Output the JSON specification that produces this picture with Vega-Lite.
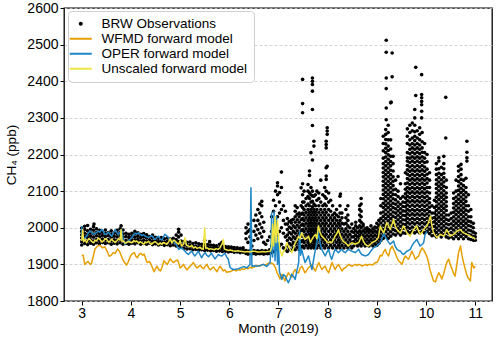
{
"$schema": "https://vega.github.io/schema/vega-lite/v6.json",
"width": 428, "height": 293,
"autosize": {"type": "none"},
"padding": {"left": 64, "top": 8, "right": 8, "bottom": 37},
"background": "white",
"config": {
 "view": {"stroke": "black", "strokeWidth": 1.3},
 "axis": {"labelFont": "Liberation Sans", "titleFont": "Liberation Sans", "labelColor": "black", "titleColor": "black", "titleFontWeight": "normal", "labelFontSize": 14, "titleFontSize": 13.5, "domain": false, "tickColor": "black", "tickSize": 4, "tickWidth": 1, "labelOverlap": false}
},
"datasets": {
"obs": [
{"m":3.00,"c":1953},{"m":3.00,"c":1962},{"m":3.00,"c":1972},{"m":3.00,"c":1981},{"m":3.00,"c":1990},{"m":3.00,"c":1999},
{"m":3.06,"c":1957},{"m":3.06,"c":1966},{"m":3.06,"c":1976},{"m":3.06,"c":1985},{"m":3.06,"c":1995},{"m":3.06,"c":2004},
{"m":3.12,"c":1954},{"m":3.12,"c":1963},{"m":3.12,"c":1973},{"m":3.12,"c":1982},{"m":3.12,"c":1992},{"m":3.12,"c":2006},
{"m":3.18,"c":1958},{"m":3.18,"c":1967},{"m":3.18,"c":1977},{"m":3.18,"c":1986},{"m":3.18,"c":1996},
{"m":3.24,"c":1955},{"m":3.24,"c":1964},{"m":3.24,"c":1974},{"m":3.24,"c":1983},{"m":3.24,"c":1993},{"m":3.24,"c":2003},{"m":3.25,"c":2010},
{"m":3.30,"c":1959},{"m":3.30,"c":1968},{"m":3.30,"c":1978},{"m":3.30,"c":1987},{"m":3.30,"c":1997},
{"m":3.36,"c":1956},{"m":3.36,"c":1965},{"m":3.36,"c":1975},{"m":3.36,"c":1984},{"m":3.36,"c":1993},
{"m":3.42,"c":1960},{"m":3.42,"c":1969},{"m":3.42,"c":1979},{"m":3.42,"c":1988},
{"m":3.48,"c":1957},{"m":3.48,"c":1966},{"m":3.48,"c":1976},{"m":3.48,"c":1985},{"m":3.48,"c":1994},
{"m":3.54,"c":1959},{"m":3.54,"c":1968},{"m":3.54,"c":1978},{"m":3.54,"c":1987},
{"m":3.60,"c":1955},{"m":3.60,"c":1964},{"m":3.60,"c":1974},{"m":3.60,"c":1983},{"m":3.60,"c":1992},
{"m":3.66,"c":1958},{"m":3.66,"c":1967},{"m":3.66,"c":1977},{"m":3.66,"c":1986},
{"m":3.72,"c":1956},{"m":3.72,"c":1965},{"m":3.72,"c":1975},{"m":3.72,"c":1984},{"m":3.72,"c":1993},
{"m":3.78,"c":1959},{"m":3.78,"c":1968},{"m":3.78,"c":1978},{"m":3.78,"c":1987},{"m":3.78,"c":1997},{"m":3.80,"c":2005},
{"m":3.84,"c":1955},{"m":3.84,"c":1964},{"m":3.84,"c":1974},{"m":3.84,"c":1983},{"m":3.84,"c":1994},
{"m":3.90,"c":1957},{"m":3.90,"c":1966},{"m":3.90,"c":1976},{"m":3.90,"c":1985},
{"m":3.96,"c":1955},{"m":3.96,"c":1964},{"m":3.96,"c":1973},{"m":3.96,"c":1982},
{"m":4.02,"c":1958},{"m":4.02,"c":1967},{"m":4.02,"c":1976},{"m":4.02,"c":1985},
{"m":4.08,"c":1956},{"m":4.08,"c":1965},{"m":4.08,"c":1974},{"m":4.08,"c":1983},{"m":4.08,"c":1990},
{"m":4.14,"c":1959},{"m":4.14,"c":1968},{"m":4.14,"c":1977},{"m":4.14,"c":1986},
{"m":4.20,"c":1955},{"m":4.20,"c":1964},{"m":4.20,"c":1973},{"m":4.20,"c":1982},
{"m":4.26,"c":1957},{"m":4.26,"c":1966},{"m":4.26,"c":1975},{"m":4.26,"c":1984},
{"m":4.32,"c":1955},{"m":4.32,"c":1964},{"m":4.32,"c":1973},{"m":4.32,"c":1981},
{"m":4.38,"c":1958},{"m":4.38,"c":1967},{"m":4.38,"c":1976},
{"m":4.44,"c":1954},{"m":4.44,"c":1963},{"m":4.44,"c":1972},{"m":4.44,"c":1980},
{"m":4.50,"c":1956},{"m":4.50,"c":1965},{"m":4.50,"c":1974},
{"m":4.56,"c":1953},{"m":4.56,"c":1962},{"m":4.56,"c":1971},
{"m":4.62,"c":1955},{"m":4.62,"c":1964},{"m":4.62,"c":1973},
{"m":4.68,"c":1952},{"m":4.68,"c":1961},{"m":4.68,"c":1970},
{"m":4.74,"c":1954},{"m":4.74,"c":1963},{"m":4.74,"c":1972},
{"m":4.80,"c":1951},{"m":4.80,"c":1960},{"m":4.80,"c":1969},
{"m":4.86,"c":1953},{"m":4.86,"c":1962},{"m":4.86,"c":1971},
{"m":4.92,"c":1950},{"m":4.92,"c":1959},{"m":4.92,"c":1968},{"m":4.92,"c":1980},
{"m":4.97,"c":1952},{"m":4.97,"c":1962},{"m":4.97,"c":1975},{"m":4.97,"c":1988},{"m":4.97,"c":1996},
{"m":5.02,"c":1946},{"m":5.02,"c":1955},{"m":5.02,"c":1964},{"m":5.02,"c":1980},
{"m":5.08,"c":1944},{"m":5.08,"c":1953},{"m":5.08,"c":1962},
{"m":5.14,"c":1942},{"m":5.14,"c":1951},{"m":5.14,"c":1960},
{"m":5.20,"c":1943},{"m":5.20,"c":1952},{"m":5.20,"c":1961},
{"m":5.26,"c":1940},{"m":5.26,"c":1949},{"m":5.26,"c":1957},
{"m":5.32,"c":1941},{"m":5.32,"c":1950},{"m":5.32,"c":1959},
{"m":5.38,"c":1939},{"m":5.38,"c":1948},{"m":5.38,"c":1956},
{"m":5.44,"c":1940},{"m":5.44,"c":1948},{"m":5.44,"c":1955},
{"m":5.50,"c":1938},{"m":5.50,"c":1946},{"m":5.50,"c":1955},{"m":5.50,"c":1966},
{"m":5.56,"c":1939},{"m":5.56,"c":1947},{"m":5.56,"c":1954},
{"m":5.62,"c":1937},{"m":5.62,"c":1945},{"m":5.62,"c":1953},{"m":5.60,"c":1962},
{"m":5.68,"c":1938},{"m":5.68,"c":1946},{"m":5.68,"c":1952},
{"m":5.74,"c":1936},{"m":5.74,"c":1944},{"m":5.74,"c":1951},
{"m":5.80,"c":1937},{"m":5.80,"c":1945},{"m":5.80,"c":1955},
{"m":5.86,"c":1935},{"m":5.86,"c":1943},{"m":5.86,"c":1950},{"m":5.85,"c":1960},
{"m":5.92,"c":1936},{"m":5.92,"c":1943},{"m":5.92,"c":1949},
{"m":5.98,"c":1934},{"m":5.98,"c":1941},{"m":5.98,"c":1948},
{"m":6.04,"c":1935},{"m":6.04,"c":1942},{"m":6.04,"c":1947},
{"m":6.10,"c":1933},{"m":6.10,"c":1940},{"m":6.10,"c":1946},
{"m":6.16,"c":1934},{"m":6.16,"c":1940},{"m":6.16,"c":1945},
{"m":6.22,"c":1932},{"m":6.22,"c":1938},{"m":6.22,"c":1944},
{"m":6.28,"c":1933},{"m":6.28,"c":1939},{"m":6.28,"c":1945},
{"m":6.34,"c":1930},{"m":6.34,"c":1938},{"m":6.34,"c":1970},{"m":6.34,"c":1985},{"m":6.34,"c":2000},
{"m":6.38,"c":1928},{"m":6.38,"c":1936},{"m":6.38,"c":1960},{"m":6.38,"c":1990},{"m":6.38,"c":2010},
{"m":6.42,"c":1930},{"m":6.42,"c":1937},{"m":6.42,"c":1975},{"m":6.42,"c":1995},
{"m":6.46,"c":1929},{"m":6.46,"c":1935},{"m":6.46,"c":1950},
{"m":6.50,"c":1930},{"m":6.50,"c":1938},{"m":6.50,"c":1965},{"m":6.50,"c":1990},{"m":6.50,"c":2020},
{"m":6.54,"c":1928},{"m":6.54,"c":1936},{"m":6.54,"c":1980},{"m":6.54,"c":2005},{"m":6.54,"c":2035},
{"m":6.58,"c":1930},{"m":6.58,"c":1937},{"m":6.58,"c":1970},{"m":6.58,"c":1995},{"m":6.58,"c":2020},{"m":6.58,"c":2050},
{"m":6.62,"c":1929},{"m":6.62,"c":1935},{"m":6.62,"c":1985},{"m":6.62,"c":2010},{"m":6.62,"c":2040},{"m":6.62,"c":2065},
{"m":6.66,"c":1930},{"m":6.66,"c":1938},{"m":6.66,"c":1975},{"m":6.66,"c":2000},{"m":6.66,"c":2030},{"m":6.66,"c":2060},{"m":6.66,"c":2072},
{"m":6.70,"c":1928},{"m":6.70,"c":1936},{"m":6.70,"c":1960},{"m":6.70,"c":1990},{"m":6.70,"c":2015},
{"m":6.74,"c":1930},{"m":6.74,"c":1937},{"m":6.74,"c":1955},
{"m":6.78,"c":1929},{"m":6.78,"c":1935},{"m":6.78,"c":1965},
{"m":6.82,"c":1930},{"m":6.82,"c":1940},{"m":6.82,"c":1975},
{"m":6.86,"c":1932},{"m":6.86,"c":1950},{"m":6.86,"c":1990},{"m":6.86,"c":2030},
{"m":6.90,"c":1935},{"m":6.90,"c":1960},{"m":6.90,"c":2000},{"m":6.90,"c":2045},{"m":6.90,"c":2075},
{"m":6.94,"c":1940},{"m":6.94,"c":1970},{"m":6.94,"c":2010},{"m":6.94,"c":2060},{"m":6.94,"c":2100},
{"m":6.98,"c":1945},{"m":6.98,"c":1980},{"m":6.98,"c":2030},{"m":6.98,"c":2090},{"m":6.98,"c":2114},{"m":6.98,"c":2123},
{"m":7.02,"c":1950},{"m":7.02,"c":1990},{"m":7.02,"c":2040},{"m":7.02,"c":2070},{"m":7.02,"c":2096},
{"m":7.06,"c":1955},{"m":7.06,"c":2000},{"m":7.06,"c":2050},{"m":7.06,"c":2110},{"m":7.06,"c":2152},
{"m":7.10,"c":1945},{"m":7.10,"c":1985},{"m":7.10,"c":2020},{"m":7.10,"c":2060},
{"m":7.14,"c":1940},{"m":7.14,"c":1975},{"m":7.14,"c":2010},{"m":7.14,"c":2045},
{"m":7.18,"c":1935},{"m":7.18,"c":1950},{"m":7.18,"c":1965},{"m":7.18,"c":1980},{"m":7.18,"c":1995},{"m":7.18,"c":2010},{"m":7.18,"c":2025},
{"m":7.22,"c":1942},{"m":7.22,"c":1957},{"m":7.22,"c":1972},{"m":7.22,"c":1987},{"m":7.22,"c":2002},{"m":7.22,"c":2017},
{"m":7.26,"c":1938},{"m":7.26,"c":1953},{"m":7.26,"c":1968},{"m":7.26,"c":1983},{"m":7.26,"c":1998},{"m":7.26,"c":2013},{"m":7.26,"c":2020},
{"m":7.30,"c":1945},{"m":7.30,"c":1960},{"m":7.30,"c":1975},{"m":7.30,"c":1990},{"m":7.30,"c":2005},{"m":7.30,"c":2023},
{"m":7.34,"c":1940},{"m":7.34,"c":1955},{"m":7.34,"c":1970},{"m":7.34,"c":1985},{"m":7.34,"c":2000},{"m":7.34,"c":2015},{"m":7.34,"c":2030},{"m":7.34,"c":2045},{"m":7.34,"c":2060},
{"m":7.38,"c":1947},{"m":7.38,"c":1962},{"m":7.38,"c":1977},{"m":7.38,"c":1992},{"m":7.38,"c":2007},{"m":7.38,"c":2022},{"m":7.38,"c":2037},{"m":7.38,"c":2055},
{"m":7.42,"c":1940},{"m":7.42,"c":1955},{"m":7.42,"c":1970},{"m":7.42,"c":1985},{"m":7.42,"c":2000},{"m":7.42,"c":2015},{"m":7.42,"c":2030},{"m":7.42,"c":2040},
{"m":7.46,"c":1947},{"m":7.46,"c":1962},{"m":7.46,"c":1977},{"m":7.46,"c":1992},{"m":7.46,"c":2007},{"m":7.46,"c":2022},{"m":7.46,"c":2037},{"m":7.46,"c":2060},{"m":7.46,"c":2109},
{"m":7.49,"c":1950},{"m":7.49,"c":1965},{"m":7.49,"c":1980},{"m":7.49,"c":1995},{"m":7.49,"c":2010},{"m":7.49,"c":2025},{"m":7.49,"c":2040},{"m":7.49,"c":2055},{"m":7.49,"c":2070},{"m":7.49,"c":2090},{"m":7.49,"c":2120},{"m":7.49,"c":2314},{"m":7.49,"c":2339},{"m":7.49,"c":2405},
{"m":7.52,"c":1945},{"m":7.52,"c":1960},{"m":7.52,"c":1975},{"m":7.52,"c":1990},{"m":7.52,"c":2005},{"m":7.52,"c":2020},{"m":7.52,"c":2035},{"m":7.52,"c":2050},{"m":7.52,"c":2070},{"m":7.52,"c":2100},
{"m":7.56,"c":1952},{"m":7.56,"c":1967},{"m":7.56,"c":1982},{"m":7.56,"c":1997},{"m":7.56,"c":2012},{"m":7.56,"c":2027},{"m":7.56,"c":2042},{"m":7.56,"c":2060},{"m":7.56,"c":2080},
{"m":7.60,"c":1945},{"m":7.60,"c":1960},{"m":7.60,"c":1975},{"m":7.60,"c":1990},{"m":7.60,"c":2005},{"m":7.60,"c":2020},{"m":7.60,"c":2035},{"m":7.60,"c":2050},{"m":7.60,"c":2065},{"m":7.60,"c":2085},{"m":7.60,"c":2100},{"m":7.60,"c":2118},
{"m":7.63,"c":1952},{"m":7.63,"c":1967},{"m":7.63,"c":1982},{"m":7.63,"c":1997},{"m":7.63,"c":2012},{"m":7.63,"c":2027},{"m":7.63,"c":2042},{"m":7.63,"c":2060},{"m":7.63,"c":2080},{"m":7.63,"c":2095},{"m":7.63,"c":2143},{"m":7.63,"c":2155},
{"m":7.66,"c":1945},{"m":7.66,"c":1960},{"m":7.66,"c":1975},{"m":7.66,"c":1990},{"m":7.66,"c":2005},{"m":7.66,"c":2020},{"m":7.66,"c":2035},{"m":7.66,"c":2050},{"m":7.66,"c":2070},{"m":7.66,"c":2090},{"m":7.66,"c":2110},{"m":7.66,"c":2205},
{"m":7.69,"c":1952},{"m":7.69,"c":1967},{"m":7.69,"c":1982},{"m":7.69,"c":1997},{"m":7.69,"c":2012},{"m":7.69,"c":2027},{"m":7.69,"c":2042},{"m":7.69,"c":2057},{"m":7.69,"c":2072},{"m":7.69,"c":2087},{"m":7.69,"c":2100},{"m":7.69,"c":2185},{"m":7.69,"c":2279},{"m":7.69,"c":2323},{"m":7.69,"c":2373},{"m":7.69,"c":2391},{"m":7.69,"c":2400},{"m":7.69,"c":2409},
{"m":7.72,"c":1945},{"m":7.72,"c":1960},{"m":7.72,"c":1975},{"m":7.72,"c":1990},{"m":7.72,"c":2005},{"m":7.72,"c":2020},{"m":7.72,"c":2035},{"m":7.72,"c":2050},{"m":7.72,"c":2065},{"m":7.72,"c":2086},{"m":7.72,"c":2223},{"m":7.72,"c":2236},
{"m":7.75,"c":1952},{"m":7.75,"c":1967},{"m":7.75,"c":1982},{"m":7.75,"c":1997},{"m":7.75,"c":2012},{"m":7.75,"c":2027},{"m":7.75,"c":2042},{"m":7.75,"c":2060},{"m":7.75,"c":2090},
{"m":7.78,"c":1945},{"m":7.78,"c":1960},{"m":7.78,"c":1975},{"m":7.78,"c":1990},{"m":7.78,"c":2005},{"m":7.78,"c":2020},{"m":7.78,"c":2035},{"m":7.78,"c":2050},{"m":7.78,"c":2075},{"m":7.78,"c":2100},
{"m":7.82,"c":1952},{"m":7.82,"c":1967},{"m":7.82,"c":1982},{"m":7.82,"c":1997},{"m":7.82,"c":2012},{"m":7.82,"c":2027},{"m":7.82,"c":2042},{"m":7.82,"c":2060},{"m":7.82,"c":2080},{"m":7.82,"c":2095},
{"m":7.86,"c":1945},{"m":7.86,"c":1960},{"m":7.86,"c":1975},{"m":7.86,"c":1990},{"m":7.86,"c":2005},{"m":7.86,"c":2020},{"m":7.86,"c":2035},{"m":7.86,"c":2050},{"m":7.86,"c":2070},{"m":7.86,"c":2130},
{"m":7.90,"c":1952},{"m":7.90,"c":1967},{"m":7.90,"c":1982},{"m":7.90,"c":1997},{"m":7.90,"c":2012},{"m":7.90,"c":2027},{"m":7.90,"c":2042},{"m":7.90,"c":2060},{"m":7.90,"c":2090},
{"m":7.94,"c":1945},{"m":7.94,"c":1960},{"m":7.94,"c":1975},{"m":7.94,"c":1990},{"m":7.94,"c":2005},{"m":7.94,"c":2020},{"m":7.94,"c":2035},{"m":7.94,"c":2050},{"m":7.94,"c":2065},{"m":7.94,"c":2085},{"m":7.94,"c":2110},
{"m":7.97,"c":1952},{"m":7.97,"c":1967},{"m":7.97,"c":1982},{"m":7.97,"c":1997},{"m":7.97,"c":2012},{"m":7.97,"c":2027},{"m":7.97,"c":2042},{"m":7.97,"c":2060},{"m":7.97,"c":2080},{"m":7.97,"c":2100},{"m":7.97,"c":2132},{"m":7.97,"c":2141},{"m":7.97,"c":2164},{"m":7.97,"c":2218},{"m":7.97,"c":2227},{"m":7.97,"c":2236},
{"m":7.99,"c":2168},{"m":7.99,"c":2255},{"m":7.99,"c":2264},{"m":7.99,"c":2273},
{"m":8.02,"c":1945},{"m":8.02,"c":1960},{"m":8.02,"c":1975},{"m":8.02,"c":1990},{"m":8.02,"c":2005},{"m":8.02,"c":2020},{"m":8.02,"c":2035},{"m":8.02,"c":2050},{"m":8.02,"c":2070},{"m":8.02,"c":2095},
{"m":8.06,"c":1952},{"m":8.06,"c":1967},{"m":8.06,"c":1982},{"m":8.06,"c":1997},{"m":8.06,"c":2012},{"m":8.06,"c":2027},{"m":8.06,"c":2045},{"m":8.06,"c":2075},
{"m":8.10,"c":1945},{"m":8.10,"c":1960},{"m":8.10,"c":1975},{"m":8.10,"c":1990},{"m":8.10,"c":2005},{"m":8.10,"c":2020},{"m":8.10,"c":2035},{"m":8.10,"c":2060},
{"m":8.14,"c":1952},{"m":8.14,"c":1967},{"m":8.14,"c":1982},{"m":8.14,"c":1997},{"m":8.14,"c":2012},{"m":8.14,"c":2027},{"m":8.14,"c":2040},
{"m":8.18,"c":1945},{"m":8.18,"c":1960},{"m":8.18,"c":1975},{"m":8.18,"c":1990},{"m":8.18,"c":2005},{"m":8.18,"c":2020},{"m":8.18,"c":2035},{"m":8.18,"c":2050},
{"m":8.22,"c":1952},{"m":8.22,"c":1967},{"m":8.22,"c":1982},{"m":8.22,"c":1997},{"m":8.22,"c":2012},{"m":8.22,"c":2030},
{"m":8.25,"c":1945},{"m":8.25,"c":1960},{"m":8.25,"c":1975},{"m":8.25,"c":1990},{"m":8.25,"c":2005},{"m":8.25,"c":2020},{"m":8.25,"c":2040},{"m":8.25,"c":2060},{"m":8.25,"c":2086},{"m":8.26,"c":2092},
{"m":8.29,"c":1952},{"m":8.29,"c":1967},{"m":8.29,"c":1982},{"m":8.29,"c":1997},{"m":8.29,"c":2012},{"m":8.29,"c":2027},{"m":8.29,"c":2040},
{"m":8.33,"c":1945},{"m":8.33,"c":1960},{"m":8.33,"c":1975},{"m":8.33,"c":1990},{"m":8.33,"c":2010},
{"m":8.37,"c":1952},{"m":8.37,"c":1967},{"m":8.37,"c":1982},{"m":8.37,"c":1997},{"m":8.37,"c":2012},{"m":8.37,"c":2027},{"m":8.37,"c":2050},
{"m":8.41,"c":1945},{"m":8.41,"c":1960},{"m":8.41,"c":1975},{"m":8.41,"c":1990},{"m":8.41,"c":2005},{"m":8.41,"c":2020},{"m":8.41,"c":2035},{"m":8.41,"c":2060},
{"m":8.45,"c":1952},{"m":8.45,"c":1967},{"m":8.45,"c":1982},{"m":8.45,"c":2000},
{"m":8.49,"c":1945},{"m":8.49,"c":1960},{"m":8.49,"c":1975},{"m":8.49,"c":1990},{"m":8.49,"c":2010},
{"m":8.53,"c":1950},{"m":8.53,"c":1962},{"m":8.53,"c":1975},{"m":8.53,"c":1987},{"m":8.53,"c":1998},
{"m":8.57,"c":1956},{"m":8.57,"c":1968},{"m":8.57,"c":1980},{"m":8.57,"c":1992},{"m":8.57,"c":2005},{"m":8.57,"c":2015},
{"m":8.61,"c":1950},{"m":8.61,"c":1962},{"m":8.61,"c":1975},{"m":8.61,"c":1987},{"m":8.61,"c":2000},
{"m":8.65,"c":1956},{"m":8.65,"c":1968},{"m":8.65,"c":1980},{"m":8.65,"c":1992},{"m":8.65,"c":2005},{"m":8.65,"c":2020},{"m":8.65,"c":2035},{"m":8.65,"c":2050},{"m":8.65,"c":2060},
{"m":8.68,"c":1950},{"m":8.68,"c":1962},{"m":8.68,"c":1975},{"m":8.68,"c":1987},{"m":8.68,"c":2000},{"m":8.68,"c":2015},{"m":8.68,"c":2030},{"m":8.68,"c":2045},{"m":8.68,"c":2065},{"m":8.68,"c":2080},
{"m":8.72,"c":1956},{"m":8.72,"c":1968},{"m":8.72,"c":1980},{"m":8.72,"c":1992},{"m":8.72,"c":2005},{"m":8.72,"c":2010},
{"m":8.76,"c":1950},{"m":8.76,"c":1962},{"m":8.76,"c":1975},{"m":8.76,"c":1987},{"m":8.76,"c":1997},
{"m":8.80,"c":1956},{"m":8.80,"c":1968},{"m":8.80,"c":1980},{"m":8.80,"c":1992},{"m":8.80,"c":2000},
{"m":8.84,"c":1950},{"m":8.84,"c":1962},{"m":8.84,"c":1975},{"m":8.84,"c":1987},{"m":8.84,"c":1995},
{"m":8.88,"c":1956},{"m":8.88,"c":1968},{"m":8.88,"c":1980},{"m":8.88,"c":1992},{"m":8.88,"c":2005},
{"m":8.92,"c":1950},{"m":8.92,"c":1962},{"m":8.92,"c":1975},{"m":8.92,"c":1987},{"m":8.92,"c":1997},
{"m":8.96,"c":1956},{"m":8.96,"c":1968},{"m":8.96,"c":1980},{"m":8.96,"c":1992},{"m":8.96,"c":2002},
{"m":9.00,"c":1952},{"m":9.00,"c":1964},{"m":9.00,"c":1976},{"m":9.00,"c":1988},{"m":9.00,"c":2000},{"m":9.00,"c":2012},
{"m":9.04,"c":1958},{"m":9.04,"c":1970},{"m":9.04,"c":1982},{"m":9.04,"c":1994},{"m":9.04,"c":2006},{"m":9.04,"c":2020},
{"m":9.08,"c":1965},{"m":9.08,"c":1977},{"m":9.08,"c":1989},{"m":9.08,"c":2001},{"m":9.08,"c":2013},{"m":9.08,"c":2025},{"m":9.08,"c":2040},{"m":9.08,"c":2060},{"m":9.08,"c":2080},
{"m":9.13,"c":1971},{"m":9.13,"c":1983},{"m":9.13,"c":1995},{"m":9.13,"c":2007},{"m":9.13,"c":2019},{"m":9.13,"c":2031},{"m":9.13,"c":2043},{"m":9.13,"c":2055},{"m":9.13,"c":2067},{"m":9.13,"c":2079},{"m":9.13,"c":2091},{"m":9.13,"c":2103},{"m":9.13,"c":2115},{"m":9.13,"c":2127},{"m":9.13,"c":2139},{"m":9.13,"c":2151},{"m":9.13,"c":2163},{"m":9.13,"c":2175},{"m":9.13,"c":2190},{"m":9.13,"c":2210},{"m":9.13,"c":2230},{"m":9.13,"c":2250},
{"m":9.18,"c":1977},{"m":9.18,"c":1989},{"m":9.18,"c":2001},{"m":9.18,"c":2013},{"m":9.18,"c":2025},{"m":9.18,"c":2037},{"m":9.18,"c":2049},{"m":9.18,"c":2061},{"m":9.18,"c":2073},{"m":9.18,"c":2085},{"m":9.18,"c":2097},{"m":9.18,"c":2109},{"m":9.18,"c":2121},{"m":9.18,"c":2133},{"m":9.18,"c":2145},{"m":9.18,"c":2157},{"m":9.18,"c":2169},{"m":9.18,"c":2181},{"m":9.18,"c":2193},{"m":9.18,"c":2205},{"m":9.18,"c":2217},{"m":9.18,"c":2229},{"m":9.18,"c":2241},{"m":9.18,"c":2255},{"m":9.18,"c":2268},
{"m":9.19,"c":2295},{"m":9.19,"c":2327},{"m":9.19,"c":2380},{"m":9.19,"c":2409},{"m":9.19,"c":2479},{"m":9.19,"c":2512},
{"m":9.23,"c":1971},{"m":9.23,"c":1983},{"m":9.23,"c":1995},{"m":9.23,"c":2007},{"m":9.23,"c":2019},{"m":9.23,"c":2031},{"m":9.23,"c":2043},{"m":9.23,"c":2055},{"m":9.23,"c":2067},{"m":9.23,"c":2079},{"m":9.23,"c":2091},{"m":9.23,"c":2103},{"m":9.23,"c":2115},{"m":9.23,"c":2127},{"m":9.23,"c":2139},{"m":9.23,"c":2151},{"m":9.23,"c":2163},{"m":9.23,"c":2175},{"m":9.23,"c":2187},{"m":9.23,"c":2199},{"m":9.23,"c":2211},{"m":9.23,"c":2223},{"m":9.23,"c":2240},{"m":9.23,"c":2260},{"m":9.23,"c":2280},
{"m":9.28,"c":1977},{"m":9.28,"c":1989},{"m":9.28,"c":2001},{"m":9.28,"c":2013},{"m":9.28,"c":2025},{"m":9.28,"c":2037},{"m":9.28,"c":2049},{"m":9.28,"c":2061},{"m":9.28,"c":2073},{"m":9.28,"c":2085},{"m":9.28,"c":2097},{"m":9.28,"c":2109},{"m":9.28,"c":2121},{"m":9.28,"c":2133},{"m":9.28,"c":2145},{"m":9.28,"c":2157},{"m":9.28,"c":2169},{"m":9.28,"c":2181},{"m":9.28,"c":2195},{"m":9.28,"c":2215},{"m":9.28,"c":2240},{"m":9.28,"c":2341},{"m":9.29,"c":2343},
{"m":9.31,"c":2412},{"m":9.31,"c":2477},
{"m":9.33,"c":1983},{"m":9.33,"c":1995},{"m":9.33,"c":2007},{"m":9.33,"c":2019},{"m":9.33,"c":2031},{"m":9.33,"c":2043},{"m":9.33,"c":2055},{"m":9.33,"c":2067},{"m":9.33,"c":2079},{"m":9.33,"c":2091},{"m":9.33,"c":2103},{"m":9.33,"c":2115},{"m":9.33,"c":2127},{"m":9.33,"c":2139},{"m":9.33,"c":2155},{"m":9.33,"c":2175},{"m":9.33,"c":2195},
{"m":9.38,"c":1980},{"m":9.38,"c":1992},{"m":9.38,"c":2004},{"m":9.38,"c":2016},{"m":9.38,"c":2028},{"m":9.38,"c":2040},{"m":9.38,"c":2052},{"m":9.38,"c":2064},{"m":9.38,"c":2076},{"m":9.38,"c":2090},{"m":9.38,"c":2105},{"m":9.38,"c":2130},
{"m":9.43,"c":1986},{"m":9.43,"c":1998},{"m":9.43,"c":2010},{"m":9.43,"c":2022},{"m":9.43,"c":2034},{"m":9.43,"c":2046},{"m":9.43,"c":2058},{"m":9.43,"c":2070},{"m":9.43,"c":2085},{"m":9.43,"c":2100},{"m":9.43,"c":2140},
{"m":9.48,"c":1980},{"m":9.48,"c":1992},{"m":9.48,"c":2004},{"m":9.48,"c":2016},{"m":9.48,"c":2028},{"m":9.48,"c":2040},{"m":9.48,"c":2052},{"m":9.48,"c":2064},{"m":9.48,"c":2080},{"m":9.48,"c":2120},
{"m":9.53,"c":1986},{"m":9.53,"c":1998},{"m":9.53,"c":2010},{"m":9.53,"c":2022},{"m":9.53,"c":2034},{"m":9.53,"c":2046},{"m":9.53,"c":2058},{"m":9.53,"c":2070},{"m":9.53,"c":2085},
{"m":9.58,"c":1985},{"m":9.58,"c":1997},{"m":9.58,"c":2009},{"m":9.58,"c":2021},{"m":9.58,"c":2033},{"m":9.58,"c":2045},{"m":9.58,"c":2057},{"m":9.58,"c":2069},{"m":9.58,"c":2081},{"m":9.58,"c":2093},{"m":9.58,"c":2105},{"m":9.58,"c":2120},{"m":9.58,"c":2150},
{"m":9.62,"c":1990},{"m":9.62,"c":2002},{"m":9.62,"c":2014},{"m":9.62,"c":2026},{"m":9.62,"c":2038},{"m":9.62,"c":2050},{"m":9.62,"c":2062},{"m":9.62,"c":2074},{"m":9.62,"c":2086},{"m":9.62,"c":2098},{"m":9.62,"c":2110},{"m":9.62,"c":2122},{"m":9.62,"c":2134},{"m":9.62,"c":2146},{"m":9.62,"c":2158},{"m":9.62,"c":2170},{"m":9.62,"c":2182},{"m":9.62,"c":2191},{"m":9.62,"c":2205},{"m":9.62,"c":2230},{"m":9.62,"c":2250},{"m":9.62,"c":2270},
{"m":9.67,"c":1986},{"m":9.67,"c":1998},{"m":9.67,"c":2010},{"m":9.67,"c":2022},{"m":9.67,"c":2034},{"m":9.67,"c":2046},{"m":9.67,"c":2058},{"m":9.67,"c":2070},{"m":9.67,"c":2082},{"m":9.67,"c":2094},{"m":9.67,"c":2106},{"m":9.67,"c":2118},{"m":9.67,"c":2130},{"m":9.67,"c":2142},{"m":9.67,"c":2154},{"m":9.67,"c":2166},{"m":9.67,"c":2178},{"m":9.67,"c":2190},{"m":9.67,"c":2202},{"m":9.67,"c":2214},{"m":9.67,"c":2226},{"m":9.67,"c":2240},{"m":9.67,"c":2260},{"m":9.67,"c":2280},
{"m":9.72,"c":1990},{"m":9.72,"c":2002},{"m":9.72,"c":2014},{"m":9.72,"c":2026},{"m":9.72,"c":2038},{"m":9.72,"c":2050},{"m":9.72,"c":2062},{"m":9.72,"c":2074},{"m":9.72,"c":2086},{"m":9.72,"c":2098},{"m":9.72,"c":2110},{"m":9.72,"c":2122},{"m":9.72,"c":2134},{"m":9.72,"c":2146},{"m":9.72,"c":2158},{"m":9.72,"c":2170},{"m":9.72,"c":2182},{"m":9.72,"c":2194},{"m":9.72,"c":2206},{"m":9.72,"c":2218},{"m":9.72,"c":2230},{"m":9.72,"c":2245},{"m":9.72,"c":2265},{"m":9.72,"c":2286},
{"m":9.77,"c":1986},{"m":9.77,"c":1998},{"m":9.77,"c":2010},{"m":9.77,"c":2022},{"m":9.77,"c":2034},{"m":9.77,"c":2046},{"m":9.77,"c":2058},{"m":9.77,"c":2070},{"m":9.77,"c":2082},{"m":9.77,"c":2094},{"m":9.77,"c":2106},{"m":9.77,"c":2118},{"m":9.77,"c":2130},{"m":9.77,"c":2142},{"m":9.77,"c":2154},{"m":9.77,"c":2166},{"m":9.77,"c":2178},{"m":9.77,"c":2190},{"m":9.77,"c":2202},{"m":9.77,"c":2214},{"m":9.77,"c":2226},{"m":9.77,"c":2238},{"m":9.77,"c":2250},{"m":9.77,"c":2262},{"m":9.77,"c":2280},{"m":9.77,"c":2300},{"m":9.77,"c":2323},
{"m":9.79,"c":2361},{"m":9.79,"c":2438},
{"m":9.82,"c":1990},{"m":9.82,"c":2002},{"m":9.82,"c":2014},{"m":9.82,"c":2026},{"m":9.82,"c":2038},{"m":9.82,"c":2050},{"m":9.82,"c":2062},{"m":9.82,"c":2074},{"m":9.82,"c":2086},{"m":9.82,"c":2098},{"m":9.82,"c":2110},{"m":9.82,"c":2122},{"m":9.82,"c":2134},{"m":9.82,"c":2146},{"m":9.82,"c":2158},{"m":9.82,"c":2170},{"m":9.82,"c":2182},{"m":9.82,"c":2194},{"m":9.82,"c":2206},{"m":9.82,"c":2218},{"m":9.82,"c":2230},{"m":9.82,"c":2245},{"m":9.82,"c":2265},
{"m":9.87,"c":1986},{"m":9.87,"c":1998},{"m":9.87,"c":2010},{"m":9.87,"c":2022},{"m":9.87,"c":2034},{"m":9.87,"c":2046},{"m":9.87,"c":2058},{"m":9.87,"c":2070},{"m":9.87,"c":2082},{"m":9.87,"c":2094},{"m":9.87,"c":2106},{"m":9.87,"c":2118},{"m":9.87,"c":2130},{"m":9.87,"c":2142},{"m":9.87,"c":2154},{"m":9.87,"c":2166},{"m":9.87,"c":2178},{"m":9.87,"c":2190},{"m":9.87,"c":2202},{"m":9.87,"c":2214},{"m":9.87,"c":2226},{"m":9.87,"c":2240},{"m":9.87,"c":2255},{"m":9.87,"c":2273},
{"m":9.91,"c":2300},{"m":9.91,"c":2318},{"m":9.91,"c":2336},{"m":9.91,"c":2345},{"m":9.91,"c":2355},{"m":9.91,"c":2364},{"m":9.91,"c":2418},
{"m":9.92,"c":1990},{"m":9.92,"c":2002},{"m":9.92,"c":2014},{"m":9.92,"c":2026},{"m":9.92,"c":2038},{"m":9.92,"c":2050},{"m":9.92,"c":2062},{"m":9.92,"c":2074},{"m":9.92,"c":2086},{"m":9.92,"c":2098},{"m":9.92,"c":2110},{"m":9.92,"c":2122},{"m":9.92,"c":2134},{"m":9.92,"c":2146},{"m":9.92,"c":2158},{"m":9.92,"c":2170},{"m":9.92,"c":2182},{"m":9.92,"c":2194},{"m":9.92,"c":2206},{"m":9.92,"c":2218},{"m":9.92,"c":2235},{"m":9.92,"c":2260},
{"m":9.97,"c":1986},{"m":9.97,"c":1998},{"m":9.97,"c":2010},{"m":9.97,"c":2022},{"m":9.97,"c":2034},{"m":9.97,"c":2046},{"m":9.97,"c":2058},{"m":9.97,"c":2070},{"m":9.97,"c":2082},{"m":9.97,"c":2094},{"m":9.97,"c":2106},{"m":9.97,"c":2118},{"m":9.97,"c":2130},{"m":9.97,"c":2142},{"m":9.97,"c":2154},{"m":9.97,"c":2166},{"m":9.97,"c":2178},{"m":9.97,"c":2190},{"m":9.97,"c":2205},{"m":9.97,"c":2230},
{"m":10.02,"c":1990},{"m":10.02,"c":2002},{"m":10.02,"c":2014},{"m":10.02,"c":2026},{"m":10.02,"c":2038},{"m":10.02,"c":2050},{"m":10.02,"c":2062},{"m":10.02,"c":2074},{"m":10.02,"c":2086},{"m":10.02,"c":2098},{"m":10.02,"c":2110},{"m":10.02,"c":2122},{"m":10.02,"c":2134},{"m":10.02,"c":2146},{"m":10.02,"c":2160},{"m":10.02,"c":2180},{"m":10.02,"c":2200},
{"m":10.07,"c":1984},{"m":10.07,"c":1996},{"m":10.07,"c":2008},{"m":10.07,"c":2020},{"m":10.07,"c":2032},{"m":10.07,"c":2044},{"m":10.07,"c":2056},{"m":10.07,"c":2068},{"m":10.07,"c":2080},{"m":10.07,"c":2095},{"m":10.07,"c":2110},{"m":10.07,"c":2130},{"m":10.07,"c":2150},
{"m":10.12,"c":1978},{"m":10.12,"c":1990},{"m":10.12,"c":2002},{"m":10.12,"c":2014},{"m":10.12,"c":2026},{"m":10.12,"c":2040},{"m":10.12,"c":2060},
{"m":10.17,"c":1980},{"m":10.17,"c":1992},{"m":10.17,"c":2004},{"m":10.17,"c":2016},{"m":10.17,"c":2028},{"m":10.17,"c":2040},{"m":10.17,"c":2055},{"m":10.17,"c":2075},
{"m":10.21,"c":1975},{"m":10.21,"c":1987},{"m":10.21,"c":1999},{"m":10.21,"c":2011},{"m":10.21,"c":2023},{"m":10.21,"c":2035},{"m":10.21,"c":2047},{"m":10.21,"c":2059},{"m":10.21,"c":2071},{"m":10.21,"c":2083},{"m":10.21,"c":2095},{"m":10.21,"c":2107},{"m":10.21,"c":2119},{"m":10.21,"c":2131},{"m":10.21,"c":2145},{"m":10.21,"c":2160},{"m":10.21,"c":2175},
{"m":10.26,"c":1981},{"m":10.26,"c":1993},{"m":10.26,"c":2005},{"m":10.26,"c":2017},{"m":10.26,"c":2029},{"m":10.26,"c":2041},{"m":10.26,"c":2053},{"m":10.26,"c":2065},{"m":10.26,"c":2077},{"m":10.26,"c":2089},{"m":10.26,"c":2101},{"m":10.26,"c":2113},{"m":10.26,"c":2125},{"m":10.26,"c":2137},{"m":10.26,"c":2149},{"m":10.26,"c":2161},{"m":10.26,"c":2182},{"m":10.26,"c":2191},
{"m":10.31,"c":1975},{"m":10.31,"c":1987},{"m":10.31,"c":1999},{"m":10.31,"c":2011},{"m":10.31,"c":2023},{"m":10.31,"c":2035},{"m":10.31,"c":2047},{"m":10.31,"c":2059},{"m":10.31,"c":2071},{"m":10.31,"c":2083},{"m":10.31,"c":2095},{"m":10.31,"c":2107},{"m":10.31,"c":2119},{"m":10.31,"c":2131},{"m":10.31,"c":2145},{"m":10.31,"c":2165},
{"m":10.36,"c":1981},{"m":10.36,"c":1993},{"m":10.36,"c":2005},{"m":10.36,"c":2017},{"m":10.36,"c":2029},{"m":10.36,"c":2041},{"m":10.36,"c":2053},{"m":10.36,"c":2065},{"m":10.36,"c":2077},{"m":10.36,"c":2089},{"m":10.36,"c":2101},{"m":10.36,"c":2113},{"m":10.36,"c":2125},{"m":10.36,"c":2137},{"m":10.36,"c":2149},{"m":10.36,"c":2161},{"m":10.36,"c":2175},{"m":10.36,"c":2195},
{"m":10.40,"c":2245},{"m":10.40,"c":2356},
{"m":10.41,"c":1975},{"m":10.41,"c":1987},{"m":10.41,"c":1999},{"m":10.41,"c":2011},{"m":10.41,"c":2023},{"m":10.41,"c":2035},{"m":10.41,"c":2047},{"m":10.41,"c":2059},{"m":10.41,"c":2071},{"m":10.41,"c":2083},{"m":10.41,"c":2095},{"m":10.41,"c":2110},{"m":10.41,"c":2130},
{"m":10.46,"c":1972},{"m":10.46,"c":1984},{"m":10.46,"c":1996},{"m":10.46,"c":2008},{"m":10.46,"c":2020},{"m":10.46,"c":2035},
{"m":10.51,"c":1975},{"m":10.51,"c":1987},{"m":10.51,"c":1999},{"m":10.51,"c":2011},{"m":10.51,"c":2025},{"m":10.51,"c":2040},
{"m":10.56,"c":1970},{"m":10.56,"c":1982},{"m":10.56,"c":1994},{"m":10.56,"c":2006},{"m":10.56,"c":2018},{"m":10.56,"c":2030},{"m":10.56,"c":2042},{"m":10.56,"c":2054},{"m":10.56,"c":2066},{"m":10.56,"c":2080},{"m":10.56,"c":2095},
{"m":10.61,"c":1976},{"m":10.61,"c":1988},{"m":10.61,"c":2000},{"m":10.61,"c":2012},{"m":10.61,"c":2024},{"m":10.61,"c":2036},{"m":10.61,"c":2048},{"m":10.61,"c":2060},{"m":10.61,"c":2072},{"m":10.61,"c":2084},{"m":10.61,"c":2100},{"m":10.61,"c":2130},
{"m":10.66,"c":1970},{"m":10.66,"c":1982},{"m":10.66,"c":1994},{"m":10.66,"c":2006},{"m":10.66,"c":2018},{"m":10.66,"c":2030},{"m":10.66,"c":2042},{"m":10.66,"c":2054},{"m":10.66,"c":2066},{"m":10.66,"c":2078},{"m":10.66,"c":2090},{"m":10.66,"c":2102},{"m":10.66,"c":2114},{"m":10.66,"c":2126},{"m":10.66,"c":2140},{"m":10.66,"c":2155},{"m":10.66,"c":2168},
{"m":10.71,"c":1976},{"m":10.71,"c":1988},{"m":10.71,"c":2000},{"m":10.71,"c":2012},{"m":10.71,"c":2024},{"m":10.71,"c":2036},{"m":10.71,"c":2048},{"m":10.71,"c":2060},{"m":10.71,"c":2072},{"m":10.71,"c":2084},{"m":10.71,"c":2096},{"m":10.71,"c":2108},{"m":10.71,"c":2120},{"m":10.71,"c":2132},{"m":10.71,"c":2145},{"m":10.71,"c":2160},{"m":10.71,"c":2173},
{"m":10.76,"c":1970},{"m":10.76,"c":1982},{"m":10.76,"c":1994},{"m":10.76,"c":2006},{"m":10.76,"c":2018},{"m":10.76,"c":2030},{"m":10.76,"c":2042},{"m":10.76,"c":2054},{"m":10.76,"c":2066},{"m":10.76,"c":2078},{"m":10.76,"c":2090},{"m":10.76,"c":2102},{"m":10.76,"c":2115},{"m":10.76,"c":2130},
{"m":10.81,"c":1976},{"m":10.81,"c":1988},{"m":10.81,"c":2000},{"m":10.81,"c":2012},{"m":10.81,"c":2024},{"m":10.81,"c":2036},{"m":10.81,"c":2048},{"m":10.81,"c":2060},{"m":10.81,"c":2072},{"m":10.81,"c":2084},{"m":10.81,"c":2096},{"m":10.81,"c":2110},{"m":10.81,"c":2135},
{"m":10.83,"c":2182},{"m":10.83,"c":2191},{"m":10.83,"c":2206},{"m":10.83,"c":2236},
{"m":10.86,"c":1970},{"m":10.86,"c":1982},{"m":10.86,"c":1994},{"m":10.86,"c":2006},{"m":10.86,"c":2018},{"m":10.86,"c":2030},{"m":10.86,"c":2045},{"m":10.86,"c":2060},{"m":10.86,"c":2090},
{"m":10.91,"c":1968},{"m":10.91,"c":1980},{"m":10.91,"c":1992},{"m":10.91,"c":2004},{"m":10.91,"c":2016},{"m":10.91,"c":2030},{"m":10.91,"c":2050},
{"m":10.96,"c":1966},{"m":10.96,"c":1976},{"m":10.96,"c":1988},{"m":10.96,"c":2000},{"m":10.96,"c":2012},
{"m":11.00,"c":1966},{"m":11.00,"c":1975},{"m":11.00,"c":1985}
],
"wfmd": [
{"m":3.00,"c":1925},{"m":3.03,"c":1925},{"m":3.06,"c":1900},{"m":3.10,"c":1905},{"m":3.13,"c":1908},{"m":3.17,"c":1900},{"m":3.20,"c":1903},{"m":3.24,"c":1925},{"m":3.27,"c":1942},{"m":3.32,"c":1950},{"m":3.37,"c":1952},{"m":3.42,"c":1945},{"m":3.47,"c":1948},{"m":3.52,"c":1935},{"m":3.56,"c":1922},{"m":3.60,"c":1925},{"m":3.64,"c":1932},{"m":3.68,"c":1930},{"m":3.73,"c":1942},{"m":3.77,"c":1935},{"m":3.80,"c":1925},{"m":3.84,"c":1912},{"m":3.87,"c":1905},{"m":3.91,"c":1898},{"m":3.94,"c":1905},{"m":3.97,"c":1915},{"m":4.00,"c":1925},{"m":4.04,"c":1930},{"m":4.07,"c":1932},{"m":4.10,"c":1922},{"m":4.13,"c":1918},{"m":4.17,"c":1928},{"m":4.20,"c":1930},{"m":4.24,"c":1925},{"m":4.27,"c":1928},{"m":4.30,"c":1915},{"m":4.33,"c":1905},{"m":4.37,"c":1908},{"m":4.40,"c":1903},{"m":4.44,"c":1890},{"m":4.47,"c":1880},{"m":4.50,"c":1888},{"m":4.53,"c":1895},{"m":4.57,"c":1885},{"m":4.60,"c":1882},{"m":4.64,"c":1895},{"m":4.67,"c":1910},{"m":4.70,"c":1905},{"m":4.74,"c":1900},{"m":4.77,"c":1908},{"m":4.80,"c":1915},{"m":4.84,"c":1908},{"m":4.87,"c":1905},{"m":4.91,"c":1910},{"m":4.95,"c":1912},{"m":4.98,"c":1900},{"m":5.00,"c":1890},{"m":5.04,"c":1895},{"m":5.07,"c":1900},{"m":5.10,"c":1892},{"m":5.14,"c":1885},{"m":5.17,"c":1890},{"m":5.20,"c":1895},{"m":5.24,"c":1900},{"m":5.27,"c":1905},{"m":5.30,"c":1898},{"m":5.34,"c":1890},{"m":5.37,"c":1893},{"m":5.41,"c":1897},{"m":5.44,"c":1892},{"m":5.48,"c":1888},{"m":5.51,"c":1895},{"m":5.55,"c":1900},{"m":5.58,"c":1890},{"m":5.61,"c":1885},{"m":5.65,"c":1890},{"m":5.68,"c":1893},{"m":5.71,"c":1887},{"m":5.75,"c":1880},{"m":5.78,"c":1888},{"m":5.81,"c":1895},{"m":5.85,"c":1888},{"m":5.88,"c":1882},{"m":5.91,"c":1885},{"m":5.95,"c":1878},{"m":5.98,"c":1880},{"m":6.02,"c":1880},{"m":6.06,"c":1883},{"m":6.10,"c":1885},{"m":6.14,"c":1882},{"m":6.18,"c":1886},{"m":6.22,"c":1884},{"m":6.26,"c":1888},{"m":6.30,"c":1886},{"m":6.34,"c":1890},{"m":6.38,"c":1888},{"m":6.42,"c":1892},{"m":6.46,"c":1890},{"m":6.50,"c":1893},{"m":6.54,"c":1895},{"m":6.58,"c":1897},{"m":6.62,"c":1895},{"m":6.66,"c":1898},{"m":6.70,"c":1900},{"m":6.74,"c":1898},{"m":6.78,"c":1902},{"m":6.82,"c":1905},{"m":6.86,"c":1903},{"m":6.90,"c":1900},{"m":6.94,"c":1890},{"m":6.97,"c":1877},{"m":7.00,"c":1870},{"m":7.03,"c":1860},{"m":7.07,"c":1873},{"m":7.10,"c":1865},{"m":7.13,"c":1855},{"m":7.17,"c":1868},{"m":7.20,"c":1877},{"m":7.24,"c":1870},{"m":7.27,"c":1865},{"m":7.31,"c":1880},{"m":7.34,"c":1886},{"m":7.37,"c":1878},{"m":7.41,"c":1877},{"m":7.44,"c":1890},{"m":7.48,"c":1895},{"m":7.51,"c":1885},{"m":7.54,"c":1877},{"m":7.58,"c":1885},{"m":7.61,"c":1891},{"m":7.65,"c":1895},{"m":7.68,"c":1900},{"m":7.71,"c":1890},{"m":7.75,"c":1882},{"m":7.78,"c":1893},{"m":7.82,"c":1905},{"m":7.85,"c":1895},{"m":7.88,"c":1886},{"m":7.92,"c":1892},{"m":7.95,"c":1895},{"m":7.98,"c":1885},{"m":8.02,"c":1877},{"m":8.05,"c":1890},{"m":8.09,"c":1905},{"m":8.12,"c":1895},{"m":8.15,"c":1886},{"m":8.19,"c":1895},{"m":8.22,"c":1900},{"m":8.26,"c":1890},{"m":8.29,"c":1882},{"m":8.32,"c":1888},{"m":8.36,"c":1891},{"m":8.39,"c":1895},{"m":8.43,"c":1900},{"m":8.46,"c":1897},{"m":8.50,"c":1895},{"m":8.53,"c":1898},{"m":8.56,"c":1900},{"m":8.60,"c":1897},{"m":8.63,"c":1900},{"m":8.67,"c":1898},{"m":8.70,"c":1895},{"m":8.74,"c":1898},{"m":8.77,"c":1900},{"m":8.80,"c":1897},{"m":8.84,"c":1900},{"m":8.87,"c":1900},{"m":8.91,"c":1898},{"m":8.95,"c":1903},{"m":8.98,"c":1905},
{"m":9.00,"c":1905},{"m":9.04,"c":1915},{"m":9.07,"c":1925},{"m":9.10,"c":1923},{"m":9.14,"c":1935},{"m":9.17,"c":1941},{"m":9.20,"c":1930},{"m":9.24,"c":1923},{"m":9.27,"c":1940},{"m":9.31,"c":1950},{"m":9.34,"c":1940},{"m":9.37,"c":1932},{"m":9.41,"c":1918},{"m":9.44,"c":1910},{"m":9.48,"c":1905},{"m":9.51,"c":1900},{"m":9.55,"c":1915},{"m":9.58,"c":1923},{"m":9.61,"c":1918},{"m":9.64,"c":1914},{"m":9.68,"c":1925},{"m":9.71,"c":1936},{"m":9.75,"c":1925},{"m":9.78,"c":1914},{"m":9.81,"c":1918},{"m":9.85,"c":1923},{"m":9.88,"c":1935},{"m":9.92,"c":1945},{"m":9.95,"c":1940},{"m":9.98,"c":1932},{"m":10.02,"c":1920},{"m":10.05,"c":1905},{"m":10.08,"c":1885},{"m":10.12,"c":1868},{"m":10.15,"c":1855},{"m":10.19,"c":1852},{"m":10.22,"c":1865},{"m":10.26,"c":1877},{"m":10.29,"c":1870},{"m":10.32,"c":1860},{"m":10.36,"c":1875},{"m":10.39,"c":1891},{"m":10.42,"c":1905},{"m":10.46,"c":1914},{"m":10.49,"c":1900},{"m":10.53,"c":1886},{"m":10.56,"c":1875},{"m":10.59,"c":1868},{"m":10.62,"c":1895},{"m":10.66,"c":1932},{"m":10.70,"c":1950},{"m":10.73,"c":1925},{"m":10.76,"c":1905},{"m":10.80,"c":1885},{"m":10.83,"c":1870},{"m":10.87,"c":1860},{"m":10.90,"c":1855},{"m":10.93,"c":1905},{"m":10.97,"c":1890},{"m":11.00,"c":1895}
],
"oper": [
{"m":3.00,"c":2005},{"m":3.01,"c":1975},{"m":3.03,"c":1968},{"m":3.06,"c":1972},{"m":3.10,"c":1977},{"m":3.13,"c":1985},{"m":3.17,"c":1991},{"m":3.20,"c":1987},{"m":3.24,"c":1982},{"m":3.29,"c":1986},{"m":3.34,"c":1991},{"m":3.37,"c":1988},{"m":3.41,"c":1995},{"m":3.44,"c":1990},{"m":3.47,"c":1982},{"m":3.51,"c":1984},{"m":3.54,"c":1988},{"m":3.58,"c":1982},{"m":3.61,"c":1977},{"m":3.64,"c":1985},{"m":3.68,"c":1995},{"m":3.71,"c":1988},{"m":3.74,"c":1982},{"m":3.78,"c":1988},{"m":3.81,"c":1995},{"m":3.84,"c":1970},{"m":3.88,"c":1955},{"m":3.91,"c":1960},{"m":3.95,"c":1964},{"m":3.98,"c":1968},{"m":4.02,"c":1973},{"m":4.05,"c":1980},{"m":4.08,"c":1985},{"m":4.12,"c":1983},{"m":4.15,"c":1986},{"m":4.19,"c":1982},{"m":4.22,"c":1979},{"m":4.26,"c":1981},{"m":4.29,"c":1977},{"m":4.32,"c":1975},{"m":4.36,"c":1973},{"m":4.39,"c":1976},{"m":4.42,"c":1979},{"m":4.46,"c":1972},{"m":4.49,"c":1968},{"m":4.53,"c":1974},{"m":4.56,"c":1977},{"m":4.59,"c":1970},{"m":4.63,"c":1966},{"m":4.66,"c":1975},{"m":4.69,"c":1982},{"m":4.73,"c":1978},{"m":4.76,"c":1973},{"m":4.80,"c":1968},{"m":4.83,"c":1964},{"m":4.87,"c":1962},{"m":4.90,"c":1959},{"m":4.94,"c":1950},{"m":4.97,"c":1941},{"m":5.00,"c":1943},{"m":5.03,"c":1945},{"m":5.07,"c":1940},{"m":5.10,"c":1936},{"m":5.14,"c":1930},{"m":5.17,"c":1927},{"m":5.20,"c":1932},{"m":5.24,"c":1936},{"m":5.27,"c":1928},{"m":5.30,"c":1923},{"m":5.34,"c":1930},{"m":5.37,"c":1936},{"m":5.41,"c":1925},{"m":5.44,"c":1918},{"m":5.47,"c":1926},{"m":5.51,"c":1932},{"m":5.54,"c":1925},{"m":5.58,"c":1921},{"m":5.61,"c":1926},{"m":5.64,"c":1930},{"m":5.68,"c":1921},{"m":5.71,"c":1915},{"m":5.75,"c":1922},{"m":5.78,"c":1927},{"m":5.81,"c":1924},{"m":5.85,"c":1923},{"m":5.88,"c":1927},{"m":5.91,"c":1930},{"m":5.95,"c":1920},{"m":5.98,"c":1914},{"m":6.00,"c":1900},{"m":6.02,"c":1891},{"m":6.05,"c":1888},{"m":6.08,"c":1886},{"m":6.13,"c":1887},{"m":6.19,"c":1888},{"m":6.24,"c":1891},{"m":6.29,"c":1894},{"m":6.33,"c":1892},{"m":6.36,"c":1891},{"m":6.40,"c":1897},{"m":6.42,"c":1900},{"m":6.43,"c":2000},{"m":6.44,"c":2109},{"m":6.45,"c":1990},{"m":6.46,"c":1895},{"m":6.51,"c":1896},{"m":6.56,"c":1895},{"m":6.60,"c":1896},{"m":6.63,"c":1897},{"m":6.69,"c":1900},{"m":6.73,"c":1897},{"m":6.76,"c":1894},{"m":6.80,"c":1900},{"m":6.83,"c":1905},{"m":6.85,"c":1960},{"m":6.86,"c":2040},{"m":6.87,"c":1950},{"m":6.88,"c":1920},{"m":6.90,"c":1990},{"m":6.91,"c":2045},{"m":6.92,"c":1960},{"m":6.93,"c":1910},{"m":6.95,"c":1980},{"m":6.96,"c":2030},{"m":6.97,"c":1940},{"m":6.98,"c":1900},{"m":7.00,"c":1960},{"m":7.02,"c":1880},{"m":7.04,"c":1870},{"m":7.07,"c":1859},{"m":7.10,"c":1872},{"m":7.14,"c":1868},{"m":7.17,"c":1858},{"m":7.20,"c":1850},{"m":7.24,"c":1862},{"m":7.27,"c":1873},{"m":7.31,"c":1866},{"m":7.34,"c":1859},{"m":7.37,"c":1880},{"m":7.41,"c":1905},{"m":7.43,"c":1990},{"m":7.45,"c":1925},{"m":7.47,"c":1941},{"m":7.51,"c":1920},{"m":7.54,"c":1905},{"m":7.58,"c":1915},{"m":7.61,"c":1923},{"m":7.65,"c":1900},{"m":7.68,"c":1886},{"m":7.71,"c":1910},{"m":7.75,"c":1941},{"m":7.78,"c":1960},{"m":7.81,"c":1986},{"m":7.85,"c":1955},{"m":7.88,"c":1941},{"m":7.92,"c":1930},{"m":7.95,"c":1923},{"m":7.98,"c":1932},{"m":8.02,"c":1941},{"m":8.05,"c":1925},{"m":8.08,"c":1914},{"m":8.12,"c":1930},{"m":8.15,"c":1941},{"m":8.19,"c":1936},{"m":8.22,"c":1932},{"m":8.26,"c":1938},{"m":8.29,"c":1941},{"m":8.32,"c":1935},{"m":8.36,"c":1932},{"m":8.39,"c":1937},{"m":8.42,"c":1941},{"m":8.46,"c":1938},{"m":8.49,"c":1936},{"m":8.53,"c":1934},{"m":8.56,"c":1932},{"m":8.60,"c":1937},{"m":8.63,"c":1941},{"m":8.66,"c":1933},{"m":8.69,"c":1927},{"m":8.73,"c":1925},{"m":8.76,"c":1923},{"m":8.80,"c":1925},{"m":8.83,"c":1927},{"m":8.87,"c":1935},{"m":8.90,"c":1940},{"m":8.93,"c":1945},{"m":8.97,"c":1948},{"m":9.00,"c":1950},{"m":9.03,"c":1955},{"m":9.07,"c":1959},{"m":9.10,"c":1970},{"m":9.14,"c":1986},{"m":9.17,"c":1975},{"m":9.20,"c":1968},{"m":9.24,"c":1960},{"m":9.27,"c":1955},{"m":9.31,"c":1960},{"m":9.34,"c":1964},{"m":9.37,"c":1950},{"m":9.41,"c":1941},{"m":9.44,"c":1938},{"m":9.48,"c":1936},{"m":9.51,"c":1930},{"m":9.54,"c":1927},{"m":9.58,"c":1932},{"m":9.61,"c":1936},{"m":9.64,"c":1938},{"m":9.68,"c":1941},{"m":9.71,"c":1950},{"m":9.75,"c":1959},{"m":9.78,"c":1963},{"m":9.81,"c":1968},{"m":9.85,"c":1958},{"m":9.88,"c":1950},{"m":9.92,"c":1955},{"m":9.95,"c":1959},{"m":9.98,"c":1982},{"m":10.02,"c":1990}
],
"unsc": [
{"m":3.00,"c":1964},{"m":3.02,"c":1995},{"m":3.04,"c":1962},{"m":3.07,"c":1968},{"m":3.10,"c":1959},{"m":3.14,"c":1970},{"m":3.17,"c":1968},{"m":3.21,"c":1962},{"m":3.24,"c":1959},{"m":3.27,"c":1966},{"m":3.30,"c":1964},{"m":3.34,"c":1972},{"m":3.37,"c":1968},{"m":3.41,"c":1961},{"m":3.44,"c":1964},{"m":3.48,"c":1970},{"m":3.51,"c":1968},{"m":3.55,"c":1960},{"m":3.58,"c":1964},{"m":3.61,"c":1969},{"m":3.64,"c":1964},{"m":3.68,"c":1960},{"m":3.71,"c":1964},{"m":3.75,"c":1970},{"m":3.78,"c":1966},{"m":3.80,"c":1995},{"m":3.82,"c":1962},{"m":3.85,"c":1964},{"m":3.88,"c":1958},{"m":3.91,"c":1959},{"m":3.95,"c":1963},{"m":3.98,"c":1961},{"m":4.02,"c":1959},{"m":4.06,"c":1965},{"m":4.09,"c":1962},{"m":4.12,"c":1964},{"m":4.16,"c":1958},{"m":4.19,"c":1962},{"m":4.22,"c":1959},{"m":4.26,"c":1955},{"m":4.29,"c":1961},{"m":4.32,"c":1959},{"m":4.36,"c":1963},{"m":4.39,"c":1957},{"m":4.42,"c":1955},{"m":4.46,"c":1960},{"m":4.49,"c":1962},{"m":4.52,"c":1959},{"m":4.56,"c":1954},{"m":4.59,"c":1958},{"m":4.63,"c":1955},{"m":4.66,"c":1960},{"m":4.70,"c":1957},{"m":4.73,"c":1955},{"m":4.77,"c":1962},{"m":4.80,"c":1970},{"m":4.83,"c":1959},{"m":4.87,"c":1966},{"m":4.90,"c":1964},{"m":4.94,"c":1958},{"m":4.97,"c":1955},{"m":5.00,"c":1965},{"m":5.03,"c":1950},{"m":5.07,"c":1955},{"m":5.10,"c":1973},{"m":5.13,"c":1952},{"m":5.17,"c":1950},{"m":5.20,"c":1948},{"m":5.24,"c":1952},{"m":5.27,"c":1945},{"m":5.31,"c":1948},{"m":5.34,"c":1944},{"m":5.37,"c":1945},{"m":5.41,"c":1947},{"m":5.44,"c":1942},{"m":5.47,"c":1941},{"m":5.50,"c":2000},{"m":5.52,"c":1944},{"m":5.55,"c":1945},{"m":5.59,"c":1941},{"m":5.62,"c":1943},{"m":5.66,"c":1941},{"m":5.70,"c":1940},{"m":5.73,"c":1943},{"m":5.77,"c":1941},{"m":5.81,"c":1945},{"m":5.85,"c":1955},{"m":5.88,"c":1968},{"m":5.90,"c":1942},{"m":5.94,"c":1940},{"m":5.98,"c":1938},{"m":6.02,"c":1939},{"m":6.07,"c":1937},{"m":6.12,"c":1936},{"m":6.17,"c":1937},{"m":6.22,"c":1936},{"m":6.27,"c":1935},{"m":6.32,"c":1934},{"m":6.37,"c":1935},{"m":6.42,"c":1934},{"m":6.47,"c":1936},{"m":6.52,"c":1936},{"m":6.57,"c":1934},{"m":6.63,"c":1934},{"m":6.68,"c":1935},{"m":6.73,"c":1934},{"m":6.78,"c":1935},{"m":6.83,"c":1936},{"m":6.86,"c":1945},{"m":6.88,"c":2010},{"m":6.90,"c":1950},{"m":6.93,"c":2030},{"m":6.95,"c":1960},{"m":6.98,"c":2020},{"m":7.00,"c":1977},{"m":7.03,"c":1941},{"m":7.07,"c":1923},{"m":7.10,"c":1935},{"m":7.14,"c":1941},{"m":7.17,"c":1960},{"m":7.20,"c":1950},{"m":7.24,"c":1940},{"m":7.27,"c":1932},{"m":7.31,"c":1945},{"m":7.34,"c":1959},{"m":7.37,"c":1965},{"m":7.41,"c":1977},{"m":7.44,"c":1970},{"m":7.47,"c":1986},{"m":7.51,"c":1975},{"m":7.54,"c":1968},{"m":7.58,"c":1972},{"m":7.61,"c":1977},{"m":7.65,"c":1960},{"m":7.68,"c":1968},{"m":7.71,"c":1975},{"m":7.75,"c":1982},{"m":7.78,"c":1970},{"m":7.81,"c":2005},{"m":7.85,"c":1985},{"m":7.88,"c":1977},{"m":7.92,"c":1972},{"m":7.95,"c":1968},{"m":7.98,"c":1962},{"m":8.02,"c":1959},{"m":8.05,"c":1962},{"m":8.08,"c":1959},{"m":8.12,"c":1968},{"m":8.15,"c":1977},{"m":8.19,"c":1985},{"m":8.22,"c":1995},{"m":8.25,"c":1980},{"m":8.29,"c":1968},{"m":8.32,"c":1962},{"m":8.36,"c":1959},{"m":8.39,"c":1955},{"m":8.42,"c":1950},{"m":8.46,"c":1955},{"m":8.49,"c":1959},{"m":8.53,"c":1957},{"m":8.56,"c":1955},{"m":8.60,"c":1958},{"m":8.63,"c":1959},{"m":8.66,"c":1968},{"m":8.69,"c":1977},{"m":8.73,"c":1962},{"m":8.76,"c":1955},{"m":8.80,"c":1952},{"m":8.83,"c":1950},{"m":8.87,"c":1955},{"m":8.90,"c":1959},{"m":8.94,"c":1962},{"m":8.97,"c":1964},{"m":9.00,"c":1968},{"m":9.03,"c":1973},{"m":9.07,"c":2005},{"m":9.10,"c":1995},{"m":9.14,"c":1986},{"m":9.17,"c":2000},{"m":9.20,"c":2014},{"m":9.24,"c":2005},{"m":9.27,"c":1995},{"m":9.31,"c":2010},{"m":9.34,"c":2023},{"m":9.37,"c":2005},{"m":9.41,"c":1995},{"m":9.44,"c":1990},{"m":9.48,"c":1986},{"m":9.51,"c":1995},{"m":9.54,"c":2005},{"m":9.58,"c":1995},{"m":9.61,"c":1986},{"m":9.64,"c":1982},{"m":9.68,"c":1977},{"m":9.71,"c":1985},{"m":9.75,"c":1995},{"m":9.78,"c":2000},{"m":9.81,"c":2005},{"m":9.85,"c":1990},{"m":9.88,"c":1982},{"m":9.92,"c":1988},{"m":9.95,"c":1995},{"m":9.98,"c":2000},{"m":10.02,"c":2005},{"m":10.05,"c":2015},{"m":10.09,"c":2032},{"m":10.12,"c":2005},{"m":10.15,"c":1986},{"m":10.19,"c":1978},{"m":10.22,"c":1973},{"m":10.26,"c":1978},{"m":10.29,"c":1982},{"m":10.32,"c":1980},{"m":10.36,"c":1977},{"m":10.39,"c":1985},{"m":10.42,"c":1995},{"m":10.46,"c":1985},{"m":10.49,"c":1977},{"m":10.53,"c":1980},{"m":10.56,"c":1982},{"m":10.59,"c":1986},{"m":10.63,"c":1991},{"m":10.66,"c":1993},{"m":10.70,"c":1995},{"m":10.73,"c":1990},{"m":10.76,"c":1986},{"m":10.80,"c":1984},{"m":10.83,"c":1982},{"m":10.87,"c":1980},{"m":10.90,"c":1977},{"m":10.93,"c":1975},{"m":10.97,"c":1973},{"m":11.00,"c":1968}
]
},
"encoding": {
 "x": {"field": "m", "type": "quantitative", "scale": {"domain": [2.64, 11.34], "nice": false, "zero": false},
       "axis": {"title": "Month (2019)", "values": [3,4,5,6,7,8,9,10,11], "format": "d", "grid": false, "labelPadding": 1, "titlePadding": 1}},
 "y": {"field": "c", "type": "quantitative", "scale": {"domain": [1800, 2600], "nice": false, "zero": false},
       "axis": {"title": "CH₄ (ppb)", "values": [1800,1900,2000,2100,2200,2300,2400,2500,2600], "format": "d", "grid": true, "gridDash": [3,2], "gridColor": "#c8c8c8", "gridWidth": 0.8, "labelPadding": 2, "titlePadding": 8}}
},
"layer": [
{
 "data": {"name": "obs"},
 "mark": {"type": "circle", "size": 13, "opacity": 1, "clip": true},
 "encoding": {
  "color": {"datum": "BRW Observations", "type": "nominal",
   "scale": {"domain": ["BRW Observations","WFMD forward model","OPER forward model","Unscaled forward model"], "range": ["#000000","#E69F00","#1f86c6","#F0E442"]},
   "legend": {"orient": "none", "legendX": 4, "legendY": 3, "title": null, "fillColor": "white", "strokeColor": "#d0d0d0", "cornerRadius": 4, "padding": 6,
     "labelFont": "Liberation Sans", "labelFontSize": 13.5, "labelColor": "black", "rowPadding": 0, "symbolType": "stroke", "symbolSize": 225, "symbolStrokeWidth": 2, "labelOffset": 14,
     "encode": {"symbols": {"update": {
        "shape": {"signal": "datum.value === 'BRW Observations' ? 'circle' : 'stroke'"},
        "size": {"signal": "datum.value === 'BRW Observations' ? 16 : 484"},
        "fill": {"signal": "datum.value === 'BRW Observations' ? 'black' : 'transparent'"},
        "strokeWidth": {"signal": "datum.value === 'BRW Observations' ? 0 : 2"}}}}}
  }
 }
},
{
 "data": {"name": "wfmd"},
 "mark": {"type": "line", "strokeWidth": 1.5, "strokeJoin": "round", "clip": true},
 "encoding": {
  "color": {"datum": "WFMD forward model", "type": "nominal",
   "scale": {"domain": ["BRW Observations","WFMD forward model","OPER forward model","Unscaled forward model"], "range": ["#000000","#E69F00","#1f86c6","#F0E442"]},
   "legend": {"orient": "none", "legendX": 4, "legendY": 3, "title": null, "fillColor": "white", "strokeColor": "#d0d0d0", "cornerRadius": 4, "padding": 6,
     "labelFont": "Liberation Sans", "labelFontSize": 13.5, "labelColor": "black", "rowPadding": 0, "symbolType": "stroke", "symbolSize": 225, "symbolStrokeWidth": 2, "labelOffset": 14,
     "encode": {"symbols": {"update": {
        "shape": {"signal": "datum.value === 'BRW Observations' ? 'circle' : 'stroke'"},
        "size": {"signal": "datum.value === 'BRW Observations' ? 16 : 484"},
        "fill": {"signal": "datum.value === 'BRW Observations' ? 'black' : 'transparent'"},
        "strokeWidth": {"signal": "datum.value === 'BRW Observations' ? 0 : 2"}}}}}
  }
 }
},
{
 "data": {"name": "oper"},
 "mark": {"type": "line", "strokeWidth": 1.5, "strokeJoin": "round", "clip": true},
 "encoding": {
  "color": {"datum": "OPER forward model", "type": "nominal",
   "scale": {"domain": ["BRW Observations","WFMD forward model","OPER forward model","Unscaled forward model"], "range": ["#000000","#E69F00","#1f86c6","#F0E442"]},
   "legend": {"orient": "none", "legendX": 4, "legendY": 3, "title": null, "fillColor": "white", "strokeColor": "#d0d0d0", "cornerRadius": 4, "padding": 6,
     "labelFont": "Liberation Sans", "labelFontSize": 13.5, "labelColor": "black", "rowPadding": 0, "symbolType": "stroke", "symbolSize": 225, "symbolStrokeWidth": 2, "labelOffset": 14,
     "encode": {"symbols": {"update": {
        "shape": {"signal": "datum.value === 'BRW Observations' ? 'circle' : 'stroke'"},
        "size": {"signal": "datum.value === 'BRW Observations' ? 16 : 484"},
        "fill": {"signal": "datum.value === 'BRW Observations' ? 'black' : 'transparent'"},
        "strokeWidth": {"signal": "datum.value === 'BRW Observations' ? 0 : 2"}}}}}
  }
 }
},
{
 "data": {"name": "unsc"},
 "mark": {"type": "line", "strokeWidth": 1.5, "strokeJoin": "round", "clip": true},
 "encoding": {
  "color": {"datum": "Unscaled forward model", "type": "nominal",
   "scale": {"domain": ["BRW Observations","WFMD forward model","OPER forward model","Unscaled forward model"], "range": ["#000000","#E69F00","#1f86c6","#F0E442"]},
   "legend": {"orient": "none", "legendX": 4, "legendY": 3, "title": null, "fillColor": "white", "strokeColor": "#d0d0d0", "cornerRadius": 4, "padding": 6,
     "labelFont": "Liberation Sans", "labelFontSize": 13.5, "labelColor": "black", "rowPadding": 0, "symbolType": "stroke", "symbolSize": 225, "symbolStrokeWidth": 2, "labelOffset": 14,
     "encode": {"symbols": {"update": {
        "shape": {"signal": "datum.value === 'BRW Observations' ? 'circle' : 'stroke'"},
        "size": {"signal": "datum.value === 'BRW Observations' ? 16 : 484"},
        "fill": {"signal": "datum.value === 'BRW Observations' ? 'black' : 'transparent'"},
        "strokeWidth": {"signal": "datum.value === 'BRW Observations' ? 0 : 2"}}}}}
  }
 }
}
]
}
